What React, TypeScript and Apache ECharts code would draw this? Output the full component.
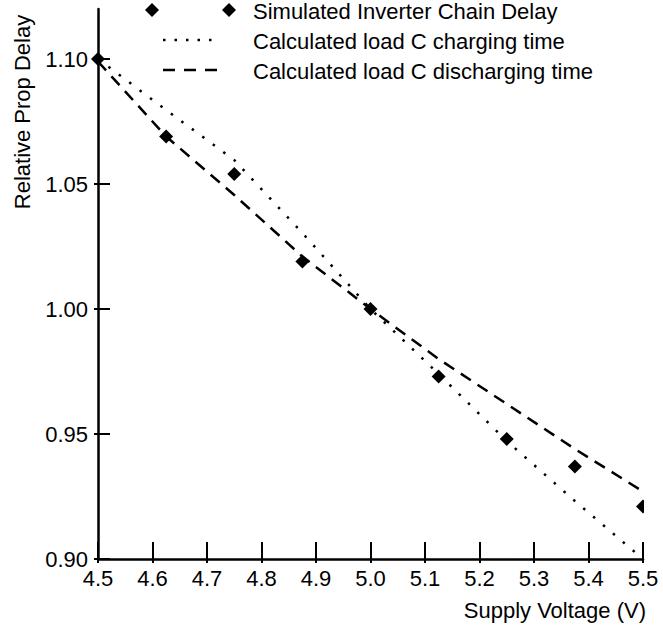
import React, { useEffect, useRef } from "react";
import * as echarts from "echarts";

const voltages = [4.5, 4.625, 4.75, 4.875, 5.0, 5.125, 5.25, 5.375, 5.5];
const simulatedDelay = [1.1, 1.069, 1.054, 1.019, 1.0, 0.973, 0.948, 0.937, 0.921];
const chargingTime = [1.1, 1.0796, 1.0596, 1.0304, 1.0, 0.974, 0.9472, 0.9232, 0.9];
const dischargingTime = [1.099, 1.069, 1.0456, 1.021, 1.0, 0.98, 0.962, 0.944, 0.927];
const yTickValues = [0.9, 0.95, 1.0, 1.05, 1.1];
const seriesNames = [
  "Simulated Inverter Chain Delay",
  "Calculated load C charging time",
  "Calculated load C discharging time",
];
const xAxisTitle = "Supply Voltage (V)";
const yAxisTitle = "Relative Prop Delay";

const FONT = "Liberation Sans, Arial, Helvetica, sans-serif";

export default function App() {
  const ref = useRef<HTMLDivElement>(null);
  useEffect(() => {
    document.body.style.margin = "0";
    const chart = echarts.init(ref.current!, null, { renderer: "svg" });
    const pairs = (ys: number[]) => voltages.map((v, i) => [v, ys[i]]);
    const diamond = (cx: number, cy: number) => ({
      type: "polygon",
      shape: { points: [[cx - 7, cy], [cx, cy - 7], [cx + 7, cy], [cx, cy + 7]] },
      style: { fill: "#000" },
    });
    chart.setOption({
      animation: false,
      textStyle: { fontFamily: FONT },
      grid: { left: 98, right: 20, top: 9, bottom: 68, containLabel: false },
      xAxis: [
        {
          type: "value",
          min: 4.5,
          max: 5.5,
          interval: 0.1,
          axisLine: { show: true, lineStyle: { color: "#000", width: 2.5 } },
          axisTick: { show: true, inside: true, length: 17, lineStyle: { color: "#000", width: 2 } },
          axisLabel: {
            margin: 8,
            color: "#000",
            fontSize: 22,
            fontFamily: FONT,
            formatter: (v: number) => v.toFixed(1),
          },
          splitLine: { show: false },
        },
        {
          type: "value",
          min: 4.5,
          max: 5.5,
          interval: 0.1,
          position: "bottom",
          axisLine: { show: false },
          axisTick: { show: true, inside: false, length: 4, lineStyle: { color: "#000", width: 2 } },
          axisLabel: { show: false },
          splitLine: { show: false },
        },
      ],
      yAxis: [
        {
          type: "value",
          min: 0.9,
          max: 1.12,
          axisLine: { show: true, lineStyle: { color: "#000", width: 2.5 } },
          axisTick: {
            show: true,
            inside: true,
            length: 12,
            customValues: yTickValues,
            lineStyle: { color: "#000", width: 2 },
          },
          axisLabel: {
            margin: 10,
            color: "#000",
            fontSize: 22,
            fontFamily: FONT,
            customValues: yTickValues,
            formatter: (v: number) => v.toFixed(2),
          },
          splitLine: { show: false },
        },
        {
          type: "value",
          min: 0.9,
          max: 1.12,
          position: "left",
          axisLine: { show: false },
          axisTick: {
            show: true,
            inside: false,
            length: 4,
            customValues: yTickValues,
            lineStyle: { color: "#000", width: 2 },
          },
          axisLabel: { show: false },
          splitLine: { show: false },
        },
      ],
      series: [
        {
          name: seriesNames[1],
          type: "line",
          data: pairs(chargingTime),
          showSymbol: false,
          symbol: "none",
          lineStyle: { color: "#000", width: 2.5, type: [2.5, 10.5] },
          z: 3,
        },
        {
          name: seriesNames[2],
          type: "line",
          data: pairs(dischargingTime),
          showSymbol: false,
          symbol: "none",
          lineStyle: { color: "#000", width: 2.5, type: [12, 8] },
          z: 3,
        },
        {
          name: seriesNames[0],
          type: "scatter",
          data: pairs(simulatedDelay),
          symbol: "diamond",
          symbolSize: 14,
          itemStyle: { color: "#000", opacity: 1 },
          z: 4,
        },
      ],
      graphic: [
        {
          type: "rect",
          shape: { x: 644, y: 0, width: 30, height: 555 },
          style: { fill: "#fff" },
          z: 10,
        },
        { ...diamond(152, 10), z: 10 },
        { ...diamond(229, 10), z: 10 },
        {
          type: "line",
          shape: { x1: 163, y1: 40, x2: 218, y2: 40 },
          style: { stroke: "#000", lineWidth: 2.5, lineDash: [2.5, 9] },
          z: 10,
        },
        {
          type: "line",
          shape: { x1: 163, y1: 70, x2: 218, y2: 70 },
          style: { stroke: "#000", lineWidth: 2.5, lineDash: [12, 9] },
          z: 10,
        },
        ...seriesNames.map((n, i) => ({
          type: "text",
          x: 253,
          y: 11 + i * 30,
          z: 10,
          style: { text: n, fill: "#000", font: `22px ${FONT}`, align: "left", verticalAlign: "middle" },
        })),
        {
          type: "text",
          x: 22,
          y: 112,
          rotation: Math.PI / 2,
          z: 10,
          style: { text: yAxisTitle, fill: "#000", font: `22px ${FONT}`, align: "center", verticalAlign: "middle" },
        },
        {
          type: "text",
          x: 646,
          y: 610,
          z: 10,
          style: { text: xAxisTitle, fill: "#000", font: `22px ${FONT}`, align: "right", verticalAlign: "middle" },
        },
      ],
    });
    return () => chart.dispose();
  }, []);
  return <div ref={ref} style={{ width: 663, height: 627 }} />;
}
